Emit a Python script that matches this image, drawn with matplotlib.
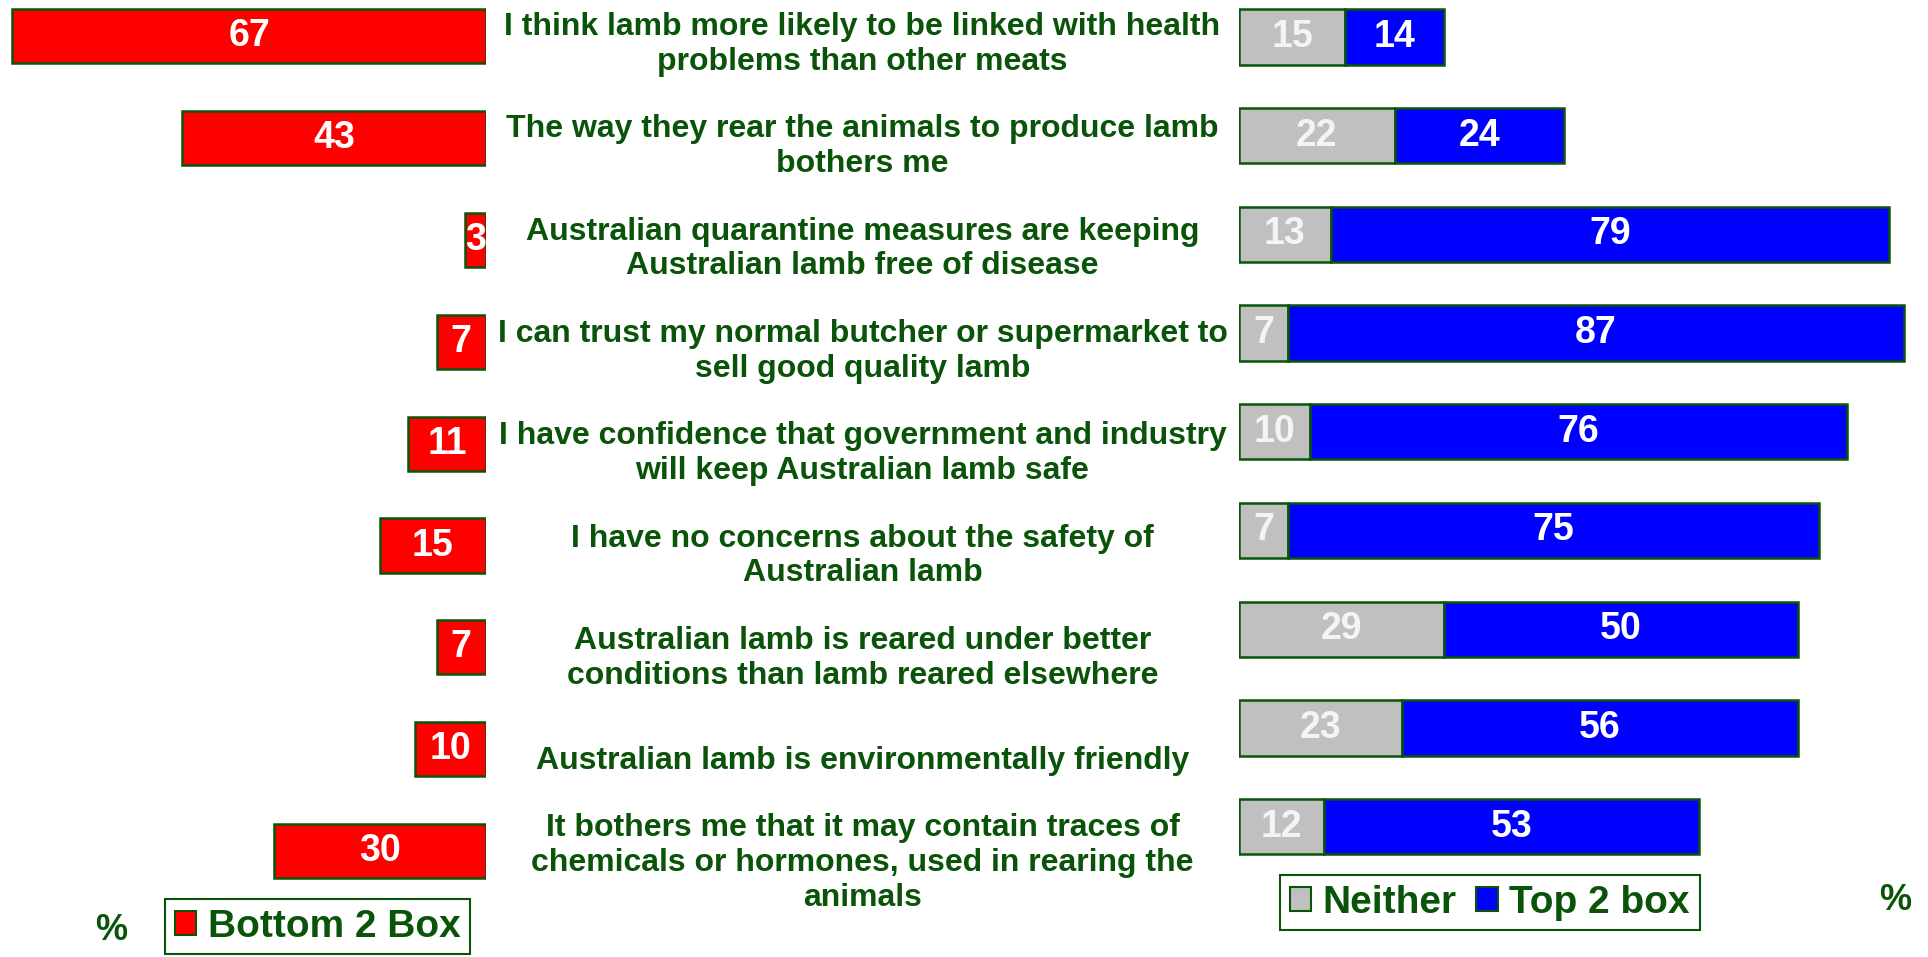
import matplotlib
matplotlib.use('Agg')
import matplotlib.pyplot as plt
from matplotlib.patches import Patch
import numpy as np

plt.rcParams['font.family'] = ['Liberation Sans', 'DejaVu Sans']

statements = [
    "I think lamb more likely to be linked with health\nproblems than other meats",
    "The way they rear the animals to produce lamb\nbothers me",
    "Australian quarantine measures are keeping\nAustralian lamb free of disease",
    "I can trust my normal butcher or supermarket to\nsell good quality lamb",
    "I have confidence that government and industry\nwill keep Australian lamb safe",
    "I have no concerns about the safety of\nAustralian lamb",
    "Australian lamb is reared under better\nconditions than lamb reared elsewhere",
    "Australian lamb is environmentally friendly",
    "It bothers me that it may contain traces of\nchemicals or hormones, used in rearing the\nanimals",
]
bottom2 = [67, 43, 3, 7, 11, 15, 7, 10, 30]
neither = [15, 22, 13, 7, 10, 7, 29, 23, 12]
top2 = [14, 24, 79, 87, 76, 75, 50, 56, 53]

W, H = 1928, 957
GREEN = '#0a540a'
PXU = 7.07  # pixels per percentage point

fig = plt.figure(figsize=(W / 100, H / 100), dpi=100)


def px_axes(x0, x1):
    ax = fig.add_axes([x0 / W, 0, (x1 - x0) / W, 1])
    ax.axis('off')
    return ax


def set_rows(ax, first, step):
    ax.set_ylim((H - first) / step, -first / step)


rows = np.arange(len(statements))

# left: bottom 2 box
axl = px_axes(0, 486)
axl.barh(rows, bottom2, height=0.53, color='#ff0000', edgecolor=GREEN, lw=1.8)
axl.set_xlim(486 / PXU, 0)
set_rows(axl, 36, 101.9)
for i, v in enumerate(bottom2):
    axl.text(v / 2, i, str(v), ha='center', va='center', color='white',
             fontsize=27, fontweight='bold')

# middle: statements
axm = px_axes(486, 1239)
axm.set_xlim(0, 1)
set_rows(axm, 44.5, 102.3)
for i, s in enumerate(statements):
    axm.text(0.5, i, s, ha='center', va='center', color=GREEN,
             fontsize=23, fontweight='bold', linespacing=1.2)

# right: neither + top 2 box
axr = px_axes(1239, W)
axr.barh(rows, neither, height=0.56, color='#c0c0c0', edgecolor=GREEN, lw=1.8)
axr.barh(rows, top2, left=neither, height=0.56, color='#0000ff',
         edgecolor=GREEN, lw=1.8)
axr.set_xlim(0, (W - 1239) / PXU)
set_rows(axr, 37, 98.7)
for i, (n, t) in enumerate(zip(neither, top2)):
    axr.text(n / 2, i, str(n), ha='center', va='center', color='#f4f4f4',
             fontsize=27, fontweight='bold')
    axr.text(n + t / 2, i, str(t), ha='center', va='center', color='white',
             fontsize=27, fontweight='bold')

# legends
leg_kw = dict(loc='upper left', fancybox=False, framealpha=1,
              edgecolor=GREEN, labelcolor=GREEN,
              prop={'weight': 'bold', 'size': 28},
              handlelength=0.55, handleheight=0.55, handletextpad=0.3,
              borderpad=0.25, borderaxespad=0, columnspacing=0.5)
lg1 = fig.legend(handles=[Patch(fc='#ff0000', ec=GREEN, lw=1.5)],
                 labels=['Bottom 2 Box'],
                 bbox_to_anchor=(165 / W, 1 - 899 / H), **leg_kw)
lg1.get_frame().set_linewidth(1.5)
lg2 = fig.legend(handles=[Patch(fc='#c0c0c0', ec=GREEN, lw=1.5),
                          Patch(fc='#0000ff', ec=GREEN, lw=1.5)],
                 labels=['Neither', 'Top 2 box'], ncol=2,
                 bbox_to_anchor=(1280 / W, 1 - 875 / H), **leg_kw)
lg2.get_frame().set_linewidth(1.5)

fig.text(111 / W, 1 - 931 / H, '%', ha='center', va='center', color=GREEN,
         fontsize=26, fontweight='bold')
fig.text(1879 / W, 1 - 900 / H, '%', ha='left', va='center', color=GREEN,
         fontsize=26, fontweight='bold')

fig.savefig('out.png', dpi=100, facecolor='white')
